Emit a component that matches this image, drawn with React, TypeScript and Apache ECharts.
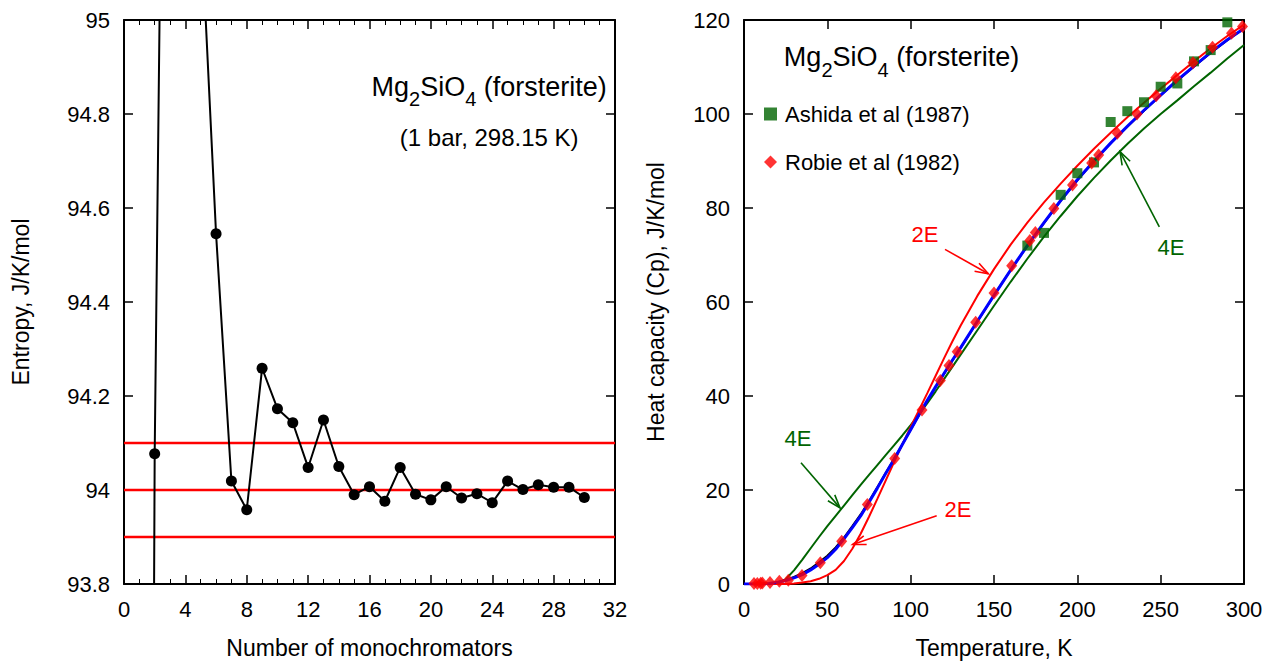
import React, { useEffect, useRef } from "react";
import * as echarts from "echarts";

const FONT = "'Liberation Sans', Arial, Helvetica, sans-serif";
const RED = "#ff0000";
const GREEN = "#006400";
const BLUE = "#0000ff";

// ---- Left panel: entropy vs number of monochromators ----
const monoCount = [1, 2, 3, 4, 5, 6, 7, 8, 9, 10, 11, 12, 13, 14, 15, 16, 17, 18, 19, 20, 21, 22, 23, 24, 25, 26, 27, 28, 29, 30];
const entropy = [
  87.0, 94.077, 97.0, 95.8, 95.22, 94.545, 94.019, 93.958, 94.259, 94.173,
  94.143, 94.048, 94.149, 94.05, 93.99, 94.007, 93.976, 94.048, 93.991, 93.979,
  94.007, 93.983, 93.992, 93.973, 94.019, 94.001, 94.011, 94.006, 94.006, 93.984,
];
const refLevels = [93.9, 94.0, 94.1];
const monoRange = [0, 32];

// ---- Right panel: heat capacity vs temperature ----
const curveT = [0, 10, 15, 20, 25, 30, 35, 40, 45, 50, 55, 60, 65, 70, 75, 80, 85, 90, 95, 100, 105, 110, 115, 120, 125, 130, 140, 150, 160, 170, 180, 190, 200, 210, 220, 230, 240, 250, 260, 270, 280, 290, 300];
const fitBlue = [0, 0.02, 0.1, 0.35, 0.75, 1.3, 2.0, 3.0, 4.2, 5.6, 7.4, 9.6, 12.0, 14.5, 17.4, 20.4, 23.5, 26.5, 29.7, 32.8, 36.0, 39.1, 42.0, 44.8, 47.6, 50.3, 55.9, 61.4, 66.8, 72.0, 76.9, 81.6, 86.0, 90.0, 93.8, 97.4, 100.8, 104.0, 107.2, 110.2, 113.1, 115.8, 118.2];
const fitBlack = [0, 0.02, 0.12, 0.4, 0.85, 1.5, 2.3, 3.3, 4.6, 6.0, 7.8, 9.9, 12.3, 14.8, 17.6, 20.6, 23.6, 26.6, 29.7, 32.8, 35.9, 39.0, 41.9, 44.7, 47.5, 50.2, 55.8, 61.4, 66.8, 71.9, 76.8, 81.5, 85.9, 90.0, 93.8, 97.3, 100.7, 104.0, 107.1, 110.1, 113.0, 115.7, 118.2];
const model2E = [0, 0, 0, 0, 0.02, 0.1, 0.3, 0.6, 1.1, 1.9, 3.0, 4.9, 7.5, 10.7, 14.3, 18.1, 22.0, 25.9, 29.7, 33.4, 37.0, 40.6, 44.3, 48.0, 51.6, 55.0, 61.3, 67.0, 72.2, 76.9, 81.2, 85.2, 89.0, 92.6, 96.0, 99.3, 102.4, 105.4, 108.3, 111.2, 114.0, 116.6, 119.0];
const model4E = [0, 0, 0, 0.2, 1.0, 2.9, 5.2, 7.6, 10.0, 12.3, 14.5, 16.7, 18.9, 21.1, 23.2, 25.3, 27.4, 29.5, 31.6, 33.8, 36.1, 38.5, 41.0, 43.6, 46.2, 48.8, 54.0, 59.2, 64.3, 69.2, 73.9, 78.3, 82.5, 86.4, 90.1, 93.6, 96.9, 100.0, 102.9, 105.9, 108.8, 111.8, 114.7];

const ashidaT = [170, 180, 190, 200, 210, 220, 230, 240, 250, 260, 270, 280, 290];
const ashidaCp = [72.0, 74.7, 82.8, 87.4, 89.7, 98.3, 100.6, 102.5, 105.8, 106.5, 111.2, 113.6, 119.5];

const robieT = [6, 8, 10, 11, 15.6, 21.2, 26.6, 34.8, 45.8, 58.6, 74.0, 90.4, 106.8, 117.8, 123.0, 127.9, 139.0, 150.0, 160.6, 171.5, 174.8, 185.9, 197.1, 208.6, 212.8, 224.0, 235.8, 247.3, 259.1, 269.4, 281.1, 292.5, 299.1];
const robieCp = [0.1, 0.12, 0.15, 0.2, 0.3, 0.6, 0.8, 1.8, 4.5, 9.1, 16.9, 26.7, 37.0, 43.3, 46.5, 49.4, 55.7, 61.9, 67.7, 73.1, 74.8, 79.9, 84.9, 89.6, 91.3, 95.9, 100.0, 103.9, 107.7, 110.9, 114.2, 117.2, 118.6];

// annotations, in data coordinates of the right panel
const annoLabels = [
  { text: "2E", at: [108.6, 74.3], color: RED },
  { text: "4E", at: [256.2, 71.6], color: GREEN },
  { text: "4E", at: [32.4, 30.9], color: GREEN },
  { text: "2E", at: [128.4, 15.9], color: RED },
];
const annoArrows = [
  { from: [120.6, 71.2], to: [146.6, 66.0], color: RED },
  { from: [249.2, 76.0], to: [225.6, 92.0], color: GREEN },
  { from: [34.2, 25.8], to: [57.6, 16.2], color: GREEN },
  { from: [115.6, 14.5], to: [65.2, 8.4], color: RED },
];

const zip = (xs: number[], ys: number[]) => xs.map((x, i) => [x, ys[i]]);

const axisLine = { show: true, onZero: false, lineStyle: { color: "#000", width: 2 } };
const tick = { show: true, inside: true, length: 9, lineStyle: { color: "#000", width: 1.5 } };
const label = { color: "#000", fontSize: 22, fontFamily: FONT, margin: 14 };
const nameStyle = { color: "#000", fontSize: 23, fontFamily: FONT };

function arrowGraphics(from: number[], to: number[], color: string) {
  const dx = from[0] - to[0];
  const dy = from[1] - to[1];
  const len = Math.hypot(dx, dy) || 1;
  const ux = dx / len;
  const uy = dy / len;
  const L = 14;
  const a = 0.33;
  const rot = (s: number) => [
    to[0] + L * (ux * Math.cos(s) - uy * Math.sin(s)),
    to[1] + L * (ux * Math.sin(s) + uy * Math.cos(s)),
  ];
  return [
    { type: "line", shape: { x1: from[0], y1: from[1], x2: to[0], y2: to[1] }, style: { stroke: color, lineWidth: 1.6 }, z: 100 },
    { type: "polyline", shape: { points: [rot(a), to, rot(-a)] }, style: { stroke: color, lineWidth: 1.6, fill: null }, z: 100 },
  ];
}

function titleGraphic(x: number, y: number) {
  return {
    type: "text",
    x,
    y,
    z: 100,
    style: {
      text: "{m|Mg}{s|2}{m|SiO}{s|4}{m| (forsterite)}",
      fill: "#000",
      align: "center",
      verticalAlign: "middle",
      fontFamily: FONT,
      rich: {
        m: { fontSize: 27, fontFamily: FONT, fill: "#000", verticalAlign: "top", lineHeight: 30 },
        s: { fontSize: 20, fontFamily: FONT, fill: "#000", verticalAlign: "top", lineHeight: 20, padding: [16, 0, 0, 0] },
      },
    },
  };
}

export default function App() {
  const ref = useRef<HTMLDivElement>(null);

  useEffect(() => {
    document.body.style.margin = "0";
    if (!ref.current) return;
    const chart = echarts.init(ref.current, undefined, { renderer: "svg" });

    const curve = (name: string, data: number[], color: string, width: number, z: number) => ({
      name, type: "line", xAxisIndex: 2, yAxisIndex: 2,
      data: zip(curveT, data), symbol: "none", smooth: false,
      lineStyle: { color, width }, z,
    });

    const option: any = {
      animation: false,
      backgroundColor: "#fff",
      textStyle: { fontFamily: FONT },
      grid: [
        { left: 124, top: 20, width: 491, height: 564 },
        { left: 744, top: 20, width: 500, height: 564 },
      ],
      legend: {
        data: ["Ashida et al (1987)", "Robie et al (1982)"],
        orient: "vertical",
        left: 759,
        top: 97,
        itemGap: 24,
        itemWidth: 13,
        itemHeight: 13,
        textStyle: { fontSize: 22, fontFamily: FONT, color: "#000", lineHeight: 24, padding: [0, 0, 0, 3] },
        selectedMode: false,
      },
      xAxis: [
        {
          type: "value", gridIndex: 0, min: 0, max: 32, interval: 4,
          axisLine, axisTick: tick, axisLabel: label, splitLine: { show: false },
          minorTick: { show: true, splitNumber: 4, length: 5, lineStyle: { color: "#000", width: 1 } },
          name: "Number of monochromators", nameLocation: "middle", nameGap: 52, nameTextStyle: nameStyle,
        },
        {
          type: "value", gridIndex: 0, position: "top", min: 0, max: 32, interval: 4,
          axisLine, axisTick: tick, axisLabel: { show: false }, splitLine: { show: false },
          minorTick: { show: true, splitNumber: 4, length: 5, lineStyle: { color: "#000", width: 1 } },
        },
        {
          type: "value", gridIndex: 1, min: 0, max: 300, interval: 50,
          axisLine, axisTick: tick, axisLabel: label, splitLine: { show: false },
          name: "Temperature, K", nameLocation: "middle", nameGap: 52, nameTextStyle: nameStyle,
        },
        {
          type: "value", gridIndex: 1, position: "top", min: 0, max: 300, interval: 50,
          axisLine, axisTick: tick, axisLabel: { show: false }, splitLine: { show: false },
        },
      ],
      yAxis: [
        {
          type: "value", gridIndex: 0, min: 93.8, max: 95, interval: 0.2,
          axisLine, axisTick: tick, axisLabel: label, splitLine: { show: false },
          name: "Entropy, J/K/mol", nameLocation: "middle", nameRotate: 90, nameGap: 92, nameTextStyle: nameStyle,
        },
        {
          type: "value", gridIndex: 0, position: "right", min: 93.8, max: 95, interval: 0.2,
          axisLine, axisTick: tick, axisLabel: { show: false }, splitLine: { show: false },
        },
        {
          type: "value", gridIndex: 1, min: 0, max: 120, interval: 20,
          axisLine, axisTick: tick, axisLabel: label, splitLine: { show: false },
          name: "Heat capacity (Cp), J/K/mol", nameLocation: "middle", nameRotate: 90, nameGap: 77, nameTextStyle: nameStyle,
        },
        {
          type: "value", gridIndex: 1, position: "right", min: 0, max: 120, interval: 20,
          axisLine, axisTick: tick, axisLabel: { show: false }, splitLine: { show: false },
        },
      ],
      series: [
        {
          name: "Entropy",
          type: "line",
          xAxisIndex: 0, yAxisIndex: 0,
          data: zip(monoCount, entropy),
          symbol: "circle", symbolSize: 11,
          lineStyle: { color: "#000", width: 2 },
          itemStyle: { color: "#000" },
          z: 5,
          clip: true,
        },
        ...refLevels.map((v) => ({
          name: "ref" + v,
          type: "line",
          xAxisIndex: 0, yAxisIndex: 0,
          data: monoRange.map((x) => [x, v]),
          symbol: "none",
          lineStyle: { color: RED, width: 2.5 },
          z: 3,
        })),
        curve("4E", model4E, GREEN, 2, 3),
        curve("2E", model2E, RED, 2, 3),
        curve("fit-black", fitBlack, "#000", 2, 3),
        curve("fit", fitBlue, BLUE, 3, 4),
        {
          name: "Ashida et al (1987)", type: "scatter", xAxisIndex: 2, yAxisIndex: 2,
          data: zip(ashidaT, ashidaCp), symbol: "rect", symbolSize: 10,
          itemStyle: { color: GREEN }, z: 5,
        },
        {
          name: "Robie et al (1982)", type: "scatter", xAxisIndex: 2, yAxisIndex: 2,
          data: zip(robieT, robieCp), symbol: "diamond", symbolSize: [11, 13],
          itemStyle: { color: RED }, z: 6,
        },
      ],
    };

    chart.setOption(option);

    const leftIdx = 0;
    const rightIdx = 4; // a series on the right grid
    const toPx = (si: number, p: number[]) => chart.convertToPixel({ seriesIndex: si }, p) as number[];

    const graphics: any[] = [];
    const lt = toPx(leftIdx, [23.8, 94.855]);
    graphics.push(titleGraphic(lt[0], lt[1]));
    const lt2 = toPx(leftIdx, [23.8, 94.75]);
    graphics.push({
      type: "text", x: lt2[0], y: lt2[1], z: 100,
      style: { text: "(1 bar, 298.15 K)", fill: "#000", fontSize: 24, fontFamily: FONT, align: "center", verticalAlign: "middle" },
    });
    const rt = toPx(rightIdx, [94.5, 111.8]);
    graphics.push(titleGraphic(rt[0], rt[1]));

    annoLabels.forEach((a) => {
      const p = toPx(rightIdx, a.at);
      graphics.push({
        type: "text", x: p[0], y: p[1], z: 100,
        style: { text: a.text, fill: a.color, fontSize: 22, fontFamily: FONT, align: "center", verticalAlign: "middle" },
      });
    });
    annoArrows.forEach((a) => {
      const f = toPx(rightIdx, a.from);
      const t = toPx(rightIdx, a.to);
      graphics.push(...arrowGraphics(f, t, a.color));
    });

    chart.setOption({ graphic: graphics });

    return () => chart.dispose();
  }, []);

  return <div ref={ref} style={{ width: 1276, height: 666 }} />;
}
